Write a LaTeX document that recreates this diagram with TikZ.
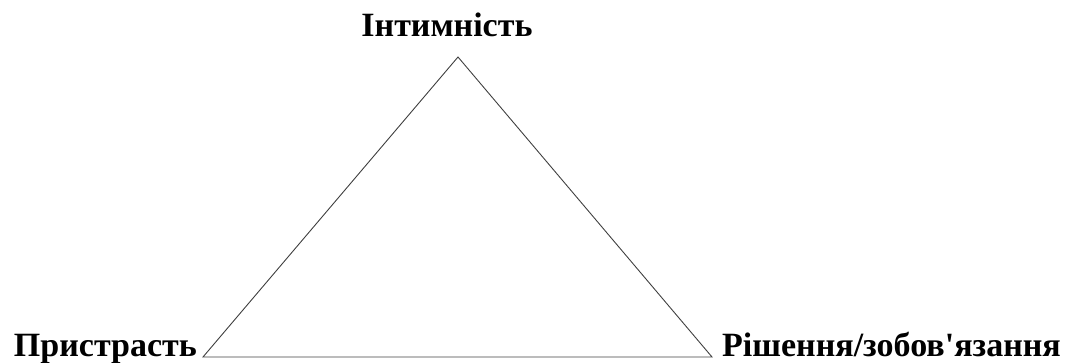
\documentclass[tikz,border=0pt]{standalone}
\usepackage{fontspec}
\setmainfont{Liberation Serif}[Ligatures=TeXOff]
\usetikzlibrary{positioning}
\definecolor{Ink}{HTML}{000000}
\definecolor{Edge}{HTML}{404040}
\tikzset{
  vertexlabel/.style={font=\bfseries\fontsize{34}{40}\selectfont,text=Ink,inner sep=0pt},
  side/.style={Edge,line width=0.9pt}
}
\begin{document}
\begin{tikzpicture}[x=1pt,y=1pt]
\useasboundingbox (0,0) rectangle (1085,363);
\coordinate (top) at (458,306);
\coordinate (left) at (203,6);
\coordinate (right) at (712,6);
\draw[side] (left) -- (top) -- (right) -- cycle;
\node[vertexlabel,anchor=base] (intimacy) at (447,326) {Інтимність};
\node[vertexlabel,anchor=base east] (passion) at (197,6) {Пристрасть};
\node[vertexlabel,anchor=base west] (commitment) at (722,6) {Рішення/зобов'язання};
\end{tikzpicture}
\end{document}
